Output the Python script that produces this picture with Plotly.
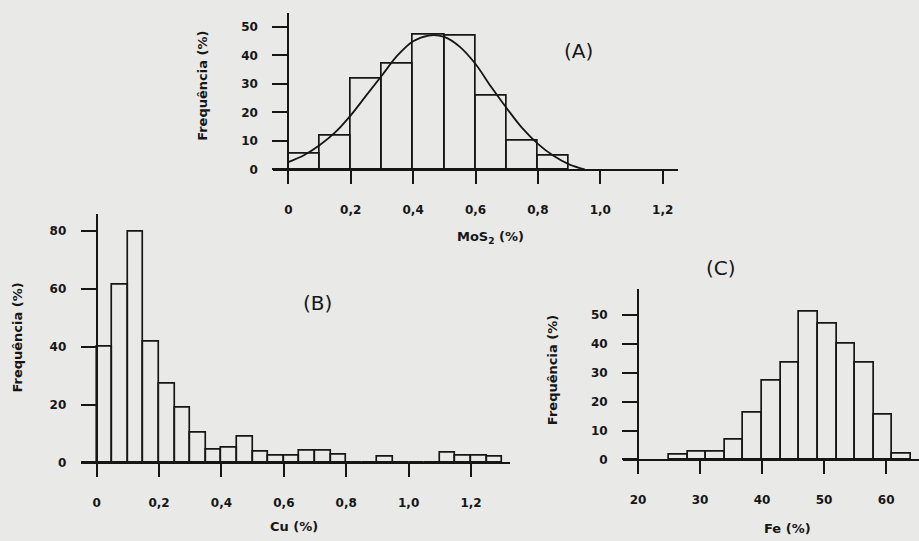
import plotly.graph_objects as go

W, H = 919, 541

# ---------------- data ----------------
# (A) MoS2
mos2_bin_start = [0.0, 0.1, 0.2, 0.3, 0.4, 0.5, 0.6, 0.7, 0.8]
mos2_bin_width = 0.1
mos2_freq = [5.5, 11.8, 32.0, 37.0, 47.3, 46.8, 26.0, 10.0, 5.0]
mos2_curve_x = [0.0, 0.05, 0.1, 0.15, 0.2, 0.25, 0.3, 0.35, 0.4, 0.45,
                0.5, 0.55, 0.6, 0.65, 0.7, 0.75, 0.8, 0.85, 0.9, 0.95]
mos2_curve_y = [2.6, 5.0, 8.5, 13.0, 19.0, 26.0, 33.0, 40.0, 45.0, 47.0,
                46.5, 43.0, 37.0, 29.0, 21.5, 14.5, 9.0, 4.8, 1.8, 0.0]
mos2_xticks = [0, 0.2, 0.4, 0.6, 0.8, 1.0, 1.2]
mos2_xticklabels = ["0", "0,2", "0,4", "0,6", "0,8", "1,0", "1,2"]
mos2_yticks = [0, 10, 20, 30, 40, 50]

# (B) Cu
cu_bin_start = [0.0, 0.05, 0.1, 0.15, 0.2, 0.25, 0.3, 0.35, 0.4, 0.45, 0.5, 0.55, 0.6,
                0.65, 0.7, 0.75, 0.8, 0.85, 0.9, 0.95, 1.0, 1.05, 1.1, 1.15, 1.2, 1.25]
cu_bin_width = 0.05
cu_freq = [40.0, 61.3, 79.9, 41.7, 27.3, 19.0, 10.3, 4.3, 5.1, 8.8, 3.7, 2.4, 2.4,
           4.1, 4.1, 2.6, 0, 0, 2.0, 0, 0, 0, 3.4, 2.3, 2.3, 2.0]
cu_xticks = [0, 0.2, 0.4, 0.6, 0.8, 1.0, 1.2]
cu_xticklabels = ["0", "0,2", "0,4", "0,6", "0,8", "1,0", "1,2"]
cu_yticks = [0, 20, 40, 60, 80]

# (C) Fe
fe_bin_start = [25, 28, 31, 34, 37, 40, 43, 46, 49, 52, 55, 58, 61]
fe_bin_width = 3
fe_freq = [1.6, 2.8, 2.8, 6.8, 16.0, 27.1, 33.3, 51.2, 46.9, 39.9, 33.4, 15.3, 1.8]
fe_xticks = [20, 30, 40, 50, 60]
fe_xticklabels = ["20", "30", "40", "50", "60"]
fe_yticks = [0, 10, 20, 30, 40, 50]

# ---------------- style ----------------
BG = "#e9eae8"
INK = "#161616"
TICKFONT = dict(family="DejaVu Sans", size=12, color=INK, weight="bold")
TITLEFONT = dict(family="DejaVu Sans", size=13, color=INK, weight="bold")
PANELFONT = dict(family="DejaVu Sans", size=20, color=INK)


def px(x):
    return x / W


def py(y):
    return 1 - y / H


fig = go.Figure()


def bars(starts, width, freq, xa, ya):
    fig.add_trace(go.Bar(
        x=starts, y=freq, width=width, offset=0,
        marker=dict(color="rgba(0,0,0,0)", line=dict(color=INK, width=1.7)),
        xaxis=xa, yaxis=ya, showlegend=False, hoverinfo="skip"))


bars(mos2_bin_start, mos2_bin_width, mos2_freq, "x", "y")
fig.add_trace(go.Scatter(x=mos2_curve_x, y=mos2_curve_y, mode="lines",
                         line=dict(color=INK, width=1.8, shape="spline"),
                         xaxis="x", yaxis="y", showlegend=False, hoverinfo="skip"))
bars(cu_bin_start, cu_bin_width, cu_freq, "x2", "y2")
bars(fe_bin_start, fe_bin_width, fe_freq, "x3", "y3")


def xax(rng, dom, anchor, tv, tt):
    return dict(range=rng, domain=dom, anchor=anchor, tickvals=tv, ticktext=tt,
                showline=True, linecolor=INK, linewidth=2, ticks="outside",
                ticklen=13, tickwidth=2, tickcolor=INK, showgrid=False,
                zeroline=False, tickfont=TICKFONT, ticklabelstandoff=15,
                fixedrange=True)


def yax(rng, dom, pos, tv):
    return dict(range=rng, domain=dom, anchor="free", position=pos, tickvals=tv,
                showline=True, linecolor=INK, linewidth=2, ticks="outside",
                ticklen=15, tickwidth=2, tickcolor=INK, showgrid=False,
                zeroline=False, tickfont=TICKFONT, ticklabelstandoff=12,
                fixedrange=True)


fig.update_layout(
    width=W, height=H, margin=dict(l=0, r=0, t=0, b=0),
    paper_bgcolor=BG, plot_bgcolor="rgba(0,0,0,0)",
    bargap=0,
    xaxis=xax([-0.05, 1.25], [px(272.7), px(678.3)], "y", mos2_xticks, mos2_xticklabels),
    yaxis=yax([0, 55], [py(171.7), py(12.9)], px(288.3), mos2_yticks),
    xaxis2=xax([-0.05, 1.325], [px(81.1), px(510)], "y2", cu_xticks, cu_xticklabels),
    yaxis2=yax([0, 86], [py(468.5), py(216.5)], px(96.7), cu_yticks),
    xaxis3=xax([17.58, 65.3], [px(623), 1.0], "y3", fe_xticks, fe_xticklabels),
    yaxis3=yax([0, 59], [py(465.5), py(292.6)], px(638), fe_yticks),
)

annotations = [
    ("MoS<sub>2</sub> (%)", 490, 241, 0, TITLEFONT),
    ("Frequência (%)", 203, 87, -90, TITLEFONT),
    ("(A)", 578, 52, 0, PANELFONT),
    ("Cu (%)", 294, 533, 0, TITLEFONT),
    ("Frequência (%)", 18, 342, -90, TITLEFONT),
    ("(B)", 317.5, 307, 0, PANELFONT),
    ("Fe (%)", 787, 535, 0, TITLEFONT),
    ("Frequência (%)", 552, 375, -90, TITLEFONT),
    ("(C)", 721, 272, 0, PANELFONT),
]
for text, x, y, ang, font in annotations:
    fig.add_annotation(text=text, x=px(x), y=py(y), xref="paper", yref="paper",
                       showarrow=False, textangle=ang, font=font,
                       xanchor="center", yanchor="middle")

fig.write_html("out.html")
